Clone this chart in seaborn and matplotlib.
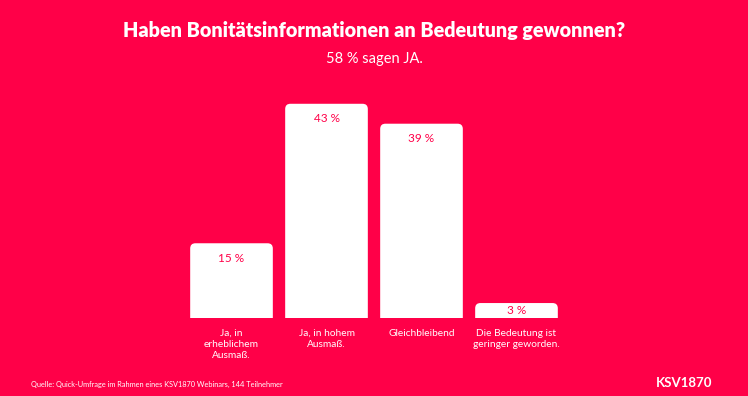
import matplotlib
matplotlib.use("Agg")
import matplotlib.pyplot as plt
import seaborn as sns
import pandas as pd
from matplotlib.patches import FancyBboxPatch

categories = ["Ja, in\nerheblichem\nAusmaß.", "Ja, in hohem\nAusmaß.", "Gleichbleibend", "Die Bedeutung ist\ngeringer geworden."]
values = [15, 43, 39, 3]
value_labels = ["15 %", "43 %", "39 %", "3 %"]

BG = "#FF0048"
sns.set_theme(style="white")
plt.rcParams["font.family"] = ["Lato", "DejaVu Sans"]

df = pd.DataFrame({"cat": categories, "val": values})

fig = plt.figure(figsize=(7.48, 3.96), dpi=100, facecolor=BG)
ax = fig.add_axes([0.246, 0.197, 0.508, 0.629])
ax.set_facecolor(BG)

W = 0.87
sns.barplot(data=df, x="cat", y="val", color="white", width=W, ax=ax, saturation=1)

ax.set_xlim(-0.5, 3.5)
ax.set_ylim(0, 50)

# replace bars with rounded-top versions
rx = 0.055
ry = 1.05
for p in list(ax.patches):
    x0, w, h = p.get_x(), p.get_width(), p.get_height()
    p.set_visible(False)
    fb = FancyBboxPatch((x0, -3), w, h + 3,
                        boxstyle=f"round,pad=0,rounding_size={rx}",
                        mutation_aspect=ry / rx,
                        facecolor="white", edgecolor="none", clip_on=True)
    ax.add_patch(fb)

for i, (v, lab) in enumerate(zip(values, value_labels)):
    ax.text(i, max(v - 3.0, v / 2), lab, ha="center", va="center", color=BG, fontsize=8.5)

ax.set_xlabel("")
ax.set_ylabel("")
ax.set_yticks([])
ax.set_xticks(range(len(categories)))
ax.set_xticklabels(categories, color="white", fontsize=7.3, linespacing=1.3)
ax.tick_params(axis="x", length=0, pad=8)
for s in ax.spines.values():
    s.set_visible(False)

fig.text(0.5, 0.924, "Haben Bonitätsinformationen an Bedeutung gewonnen?", ha="center", va="center",
         color="white", fontsize=14.2, fontweight="heavy")
fig.text(0.5, 0.851, "58 % sagen JA.", ha="center", va="center", color="white", fontsize=10.5)
fig.text(0.042, 0.028, "Quelle: Quick-Umfrage im Rahmen eines KSV1870 Webinars, 144 Teilnehmer",
         ha="left", va="center", color="white", fontsize=5.3)
fig.text(0.953, 0.033, "KSV1870", ha="right", va="center", color="white", fontsize=9.5, fontweight="bold")

fig.savefig("out.png", dpi=100, facecolor=BG)
